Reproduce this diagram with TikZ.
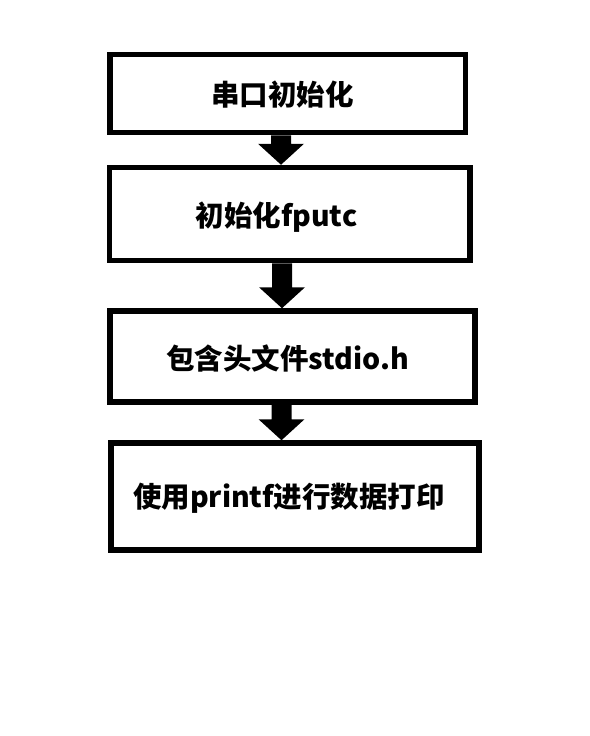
\documentclass[tikz,border=0pt]{standalone}
\usepackage{fontspec}
\newfontfamily\cjk{Noto Sans CJK SC}
\usetikzlibrary{calc}
\tikzset{
  box/.style={draw=black, line width=5.5pt, fill=white, inner sep=0pt},
  lbl/.style={font=\cjk\bfseries\fontsize{28.5}{33}\selectfont, inner sep=0pt, anchor=center},
}
\newcommand\blockarrow[3]{%
  \fill[black] let \p1=(#1.south -| #3), \p2=(#2.north -| #3) in
    (\x1-10pt,\y1) -- (\x1+10pt,\y1) -- (\x1+10pt,\y2+21pt) -- (\x1+23pt,\y2+21pt)
    -- (\x2,\y2) -- (\x1-23pt,\y2+21pt) -- (\x1-10pt,\y2+21pt) -- cycle;%
}
\begin{document}
\begin{tikzpicture}[x=1pt,y=-1pt]
\useasboundingbox[fill=white] (0,0) rectangle (589,736);
\node[box, minimum width=355.5pt, minimum height=78pt] (b1) at (287.75,93.5) {};
\node[box, minimum width=360.5pt, minimum height=93pt] (b2) at (289.75,214) {};
\node[box, minimum width=365pt, minimum height=91pt] (b3) at (292.5,356.5) {};
\node[box, minimum width=368pt, minimum height=107pt] (b4) at (295,496.5) {};
\node[lbl] (t1) at (282.5,95) {串口初始化};
\node[lbl] (t2) at (276.5,217) {初始化fputc};
\node[lbl] (t3) at (287.5,358) {包含头文件stdio.h};
\node[lbl] (t4) at (289,498) {使用printf进行数据打印};
\coordinate (a1) at (281,0);
\coordinate (a2) at (282,0);
\coordinate (a3) at (281.5,0);
\blockarrow{b1}{b2}{a1}
\blockarrow{b2}{b3}{a2}
\blockarrow{b3}{b4}{a3}
\end{tikzpicture}
\end{document}
